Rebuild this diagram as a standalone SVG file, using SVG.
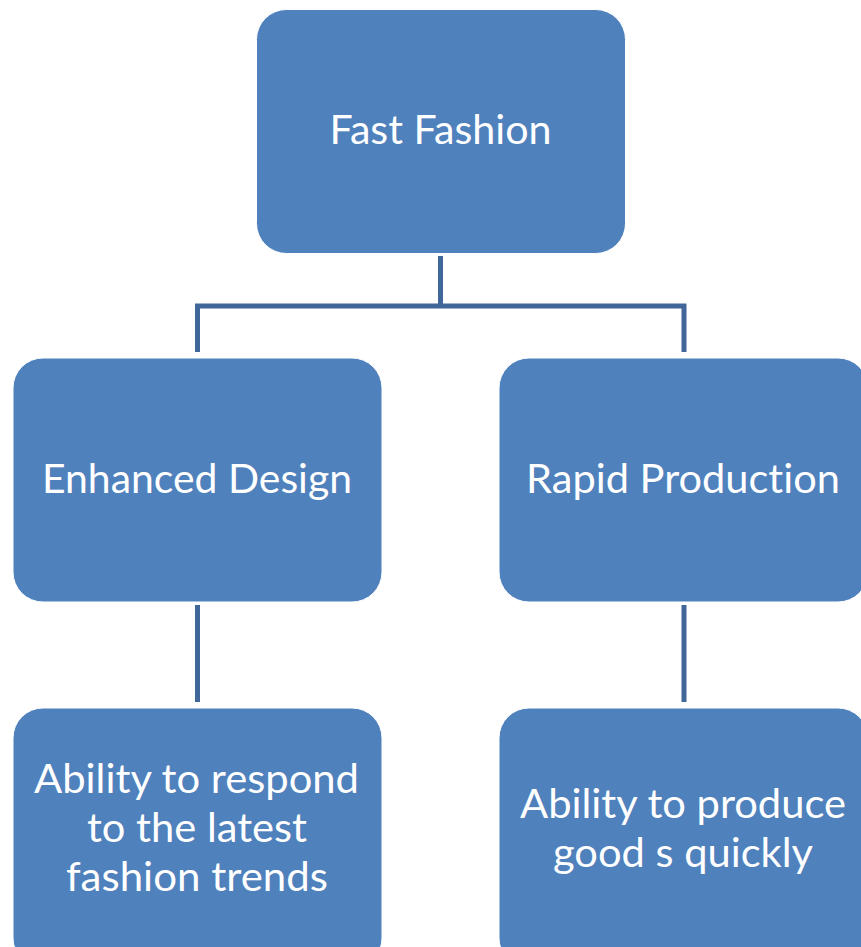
<svg xmlns="http://www.w3.org/2000/svg" width="861" height="947" viewBox="0 0 861 947">
<style>
.box{fill:#4F81BD;stroke:#ffffff;stroke-width:1}
.lbl{font-family:Lato,"Liberation Sans",sans-serif;font-size:40px;fill:#ffffff;text-anchor:middle;font-variant-ligatures:none;font-feature-settings:"liga" 0,"dlig" 0}
.conn{stroke:#41679A;stroke-width:5;fill:none}
</style>
<rect width="861" height="947" fill="#ffffff"/>
<g id="connectors">
<path class="conn" d="M440.5 256 V306"/>
<path class="conn" d="M197.5 352 V306 H684 V352"/>
<path class="conn" d="M197.5 605 V702"/>
<path class="conn" d="M684 605 V702"/>
</g>
<g id="fast-fashion">
<rect class="box" x="256.5" y="9.5" width="369" height="244" rx="30"/>
<text class="lbl" x="440.5" y="144" textLength="222" lengthAdjust="spacingAndGlyphs">Fast Fashion</text>
</g>
<g id="enhanced-design">
<rect class="box" x="13" y="358" width="369" height="244" rx="30"/>
<text class="lbl" x="197" y="493" textLength="310" lengthAdjust="spacingAndGlyphs">Enhanced Design</text>
</g>
<g id="rapid-production">
<rect class="box" x="499" y="358" width="369" height="244" rx="30"/>
<text class="lbl" x="683" y="493" textLength="314" lengthAdjust="spacingAndGlyphs">Rapid Production</text>
</g>
<g id="respond-trends">
<rect class="box" x="13" y="708" width="369" height="260" rx="30"/>
<text class="lbl" x="196.5" y="793" textLength="325" lengthAdjust="spacingAndGlyphs">Ability to respond</text>
<text class="lbl" x="197" y="842" textLength="220" lengthAdjust="spacingAndGlyphs">to the latest</text>
<text class="lbl" x="197" y="891" textLength="262" lengthAdjust="spacingAndGlyphs">fashion trends</text>
</g>
<g id="produce-quickly">
<rect class="box" x="499" y="708" width="369" height="260" rx="30"/>
<text class="lbl" x="683" y="818" textLength="326" lengthAdjust="spacingAndGlyphs">Ability to produce</text>
<text class="lbl" x="683" y="867" textLength="260" lengthAdjust="spacingAndGlyphs">good s quickly</text>
</g>
</svg>
